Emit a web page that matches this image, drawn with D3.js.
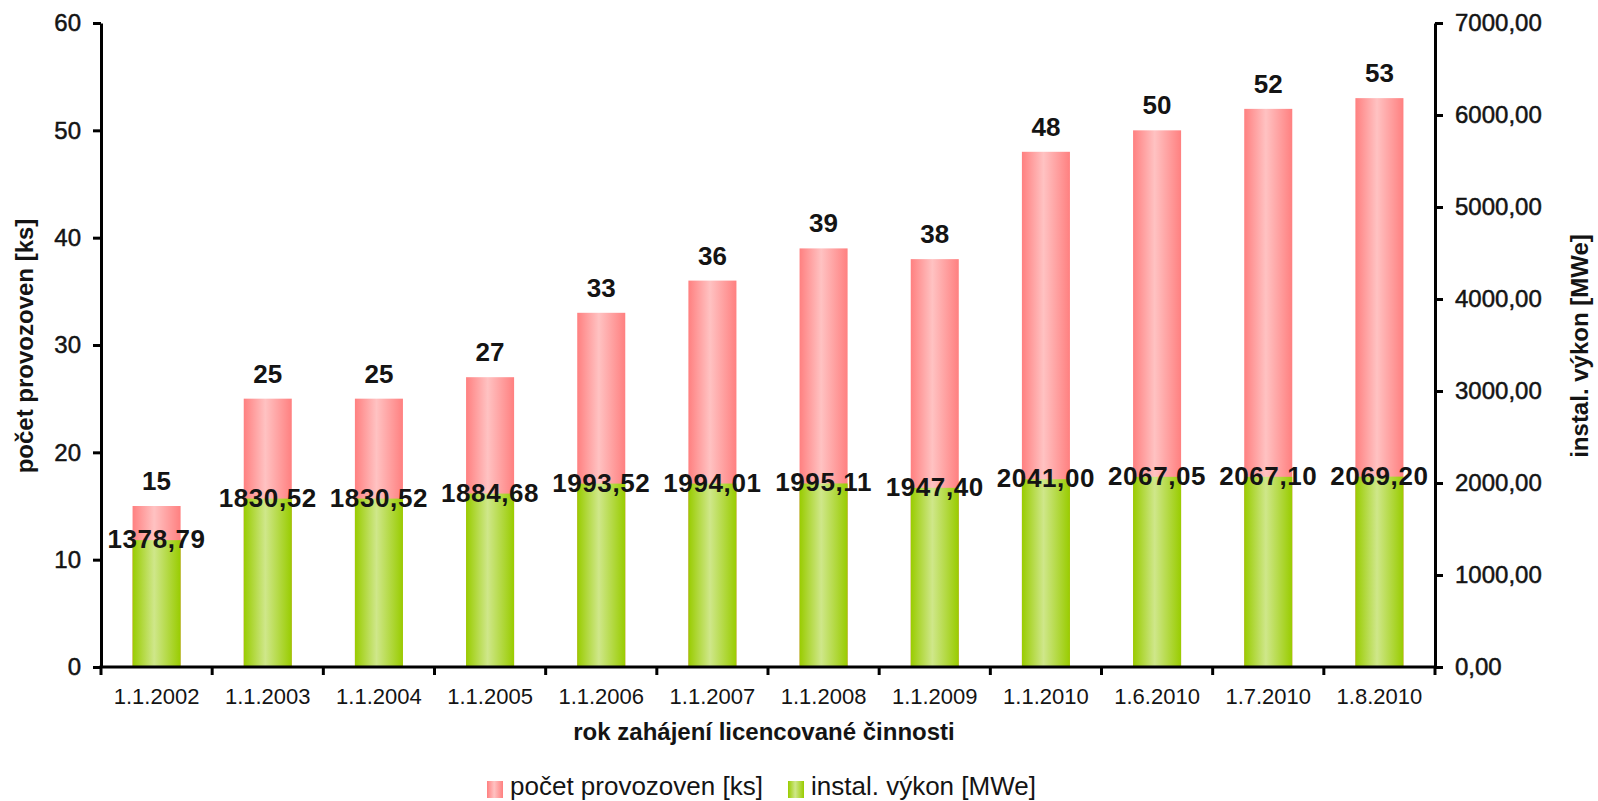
<!DOCTYPE html>
<html><head><meta charset="utf-8">
<script src="https://cdn.jsdelivr.net/npm/d3@7"></script>
<style>
html,body{margin:0;padding:0;background:#fff;}
text{font-family:"Liberation Sans",Arial,sans-serif;fill:#141414;}
</style></head>
<body><svg id="c" width="1598" height="801"></svg>
<script>
const categories = ["1.1.2002","1.1.2003","1.1.2004","1.1.2005","1.1.2006","1.1.2007","1.1.2008","1.1.2009","1.1.2010","1.6.2010","1.7.2010","1.8.2010"];
const countValues = [15,25,25,27,33,36,39,38,48,50,52,53];
const powerValues = [1378.79,1830.52,1830.52,1884.68,1993.52,1994.01,1995.11,1947.40,2041.00,2067.05,2067.10,2069.20];
const leftTicks = [0,10,20,30,40,50,60];
const rightTicks = [0,1000,2000,3000,4000,5000,6000,7000];
const seriesNames = ["počet provozoven [ks]","instal. výkon [MWe]"];
const xTitle = "rok zahájení licencované činnosti";

const svg = d3.select("#c");
const X0 = 101, X1 = 1435, YB = 667, YT = 23;
const fmt = v => d3.format(".2f")(v).replace(".", ",");

const x = d3.scaleBand().domain(categories).range([X0, X1]).paddingInner(0.568).paddingOuter(0.284);
const yL = d3.scaleLinear().domain([0, 60]).range([YB, YT]);
const yR = d3.scaleLinear().domain([0, 7000]).range([YB, YT]);

const defs = svg.append("defs");
function grad(id, edge, mid) {
  const g = defs.append("linearGradient").attr("id", id).attr("x1", "0%").attr("x2", "100%").attr("y1", "0%").attr("y2", "0%");
  g.append("stop").attr("offset", "0%").attr("stop-color", edge);
  g.append("stop").attr("offset", "45%").attr("stop-color", mid);
  g.append("stop").attr("offset", "100%").attr("stop-color", edge);
}
grad("gPink", "#ff8080", "#ffc2c2");
grad("gGreen", "#99cc00", "#cfe78a");

// pink bars
svg.append("g").selectAll("rect").data(countValues).join("rect")
  .attr("x", (d, i) => x(categories[i])).attr("width", x.bandwidth())
  .attr("y", d => yL(d)).attr("height", d => YB - yL(d))
  .attr("fill", "url(#gPink)");
// green bars
svg.append("g").selectAll("rect").data(powerValues).join("rect")
  .attr("x", (d, i) => x(categories[i])).attr("width", x.bandwidth())
  .attr("y", d => yR(d)).attr("height", d => YB - yR(d))
  .attr("fill", "url(#gGreen)");

// axes
const axL = svg.append("g").attr("transform", `translate(${X0},0)`)
  .call(d3.axisLeft(yL).tickValues(leftTicks).tickSize(8).tickSizeOuter(0).tickPadding(12));
const axR = svg.append("g").attr("transform", `translate(${X1},0)`)
  .call(d3.axisRight(yR).tickValues(rightTicks).tickSize(8).tickSizeOuter(0).tickPadding(12).tickFormat(fmt));
[axL, axR].forEach(a => {
  a.selectAll("path,line").attr("stroke", "#000").attr("stroke-width", 3);
  a.selectAll("text").attr("font-size", 24).attr("fill", "#141414")
    .attr("stroke", "#141414").attr("stroke-width", 0.5)
    .style("font-family", '"Liberation Sans",Arial,sans-serif');
});

// x axis
const step = x.step();
const axB = svg.append("g");
axB.append("line").attr("x1", X0 - 1.5).attr("x2", X1 + 1.5).attr("y1", YB).attr("y2", YB).attr("stroke", "#000").attr("stroke-width", 3);
axB.selectAll("line.t").data(d3.range(categories.length + 1)).join("line").attr("class", "t")
  .attr("x1", i => X0 + i * step).attr("x2", i => X0 + i * step)
  .attr("y1", YB).attr("y2", YB + 8).attr("stroke", "#000").attr("stroke-width", 3);
axB.selectAll("text").data(categories).join("text")
  .attr("x", d => x(d) + x.bandwidth() / 2).attr("y", 704)
  .attr("text-anchor", "middle").attr("font-size", 22).text(d => d);

// data labels
svg.append("g").selectAll("text").data(countValues).join("text")
  .attr("x", (d, i) => x(categories[i]) + x.bandwidth() / 2).attr("y", d => yL(d) - 16)
  .attr("text-anchor", "middle").attr("font-size", 26).attr("font-weight", "bold").text(d => d);
svg.append("g").selectAll("text").data(powerValues).join("text")
  .attr("x", (d, i) => x(categories[i]) + x.bandwidth() / 2).attr("y", d => yR(d) + 8)
  .attr("text-anchor", "middle").attr("font-size", 26).attr("font-weight", "bold")
  .attr("letter-spacing", 0.6).text(d => fmt(d));

// axis titles
svg.append("text").attr("transform", "translate(33,346) rotate(-90)")
  .attr("text-anchor", "middle").attr("font-size", 24).attr("font-weight", "bold").text(seriesNames[0]);
svg.append("text").attr("transform", "translate(1588,346) rotate(-90)")
  .attr("text-anchor", "middle").attr("font-size", 24).attr("font-weight", "bold").text(seriesNames[1]);
svg.append("text").attr("x", 764).attr("y", 740)
  .attr("text-anchor", "middle").attr("font-size", 24).attr("font-weight", "bold").text(xTitle);

// legend
const leg = svg.append("g");
const legItems = [{name: seriesNames[0], fill: "url(#gPink)", sx: 487, tx: 510}, {name: seriesNames[1], fill: "url(#gGreen)", sx: 788, tx: 811}];
leg.selectAll("rect").data(legItems).join("rect")
  .attr("x", d => d.sx).attr("y", 781).attr("width", 16).attr("height", 17).attr("fill", d => d.fill);
leg.selectAll("text").data(legItems).join("text")
  .attr("x", d => d.tx).attr("y", 795).attr("font-size", 26).text(d => d.name);
</script></body></html>
